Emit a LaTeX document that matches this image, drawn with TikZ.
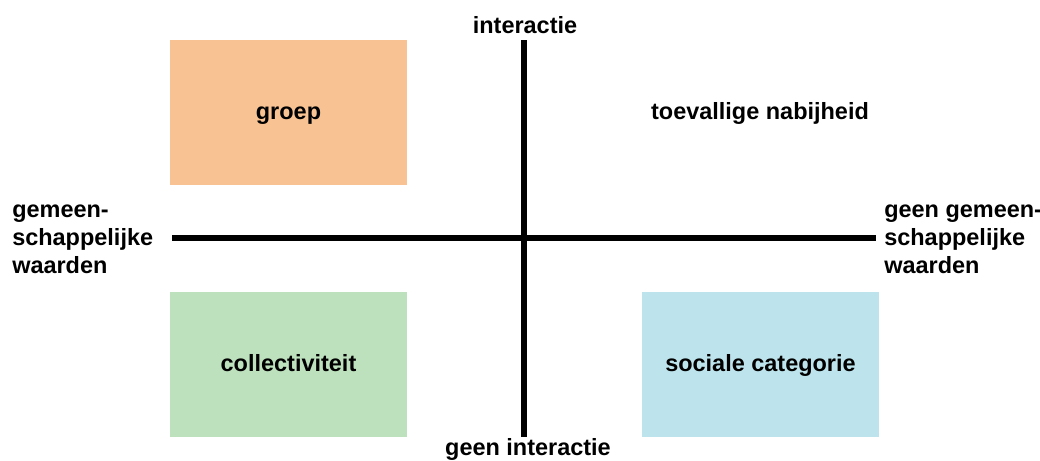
\documentclass[tikz,border=0pt]{standalone}
\usepackage{fontspec}
\setmainfont{Liberation Sans}
\definecolor{groepkleur}{HTML}{F8C292}
\definecolor{collectiefkleur}{HTML}{BDE0BD}
\definecolor{categoriekleur}{HTML}{BDE4EC}
\begin{document}
\begin{tikzpicture}[x=0.75pt,y=-0.75pt,every node/.style={font=\fontsize{17.6}{21}\selectfont\bfseries},quadrant/.style={minimum width=177.75pt,minimum height=108.75pt,inner sep=0pt,text height=10.5pt,text depth=0pt},axis/.style={line width=4.9pt},label/.style={align=left,anchor=west,inner sep=0pt}]
	\useasboundingbox (0,0) rectangle (1040,461);
	\node[quadrant,fill=groepkleur] (groep) at (288.5,112) {groep};
	\node[quadrant,fill=collectiefkleur] (collectief) at (288.5,364.5) {collectiviteit};
	\node[quadrant,fill=categoriekleur] (categorie) at (760.5,364.5) {sociale categorie};
	\node[quadrant] (nabijheid) at (760,112) {toevallige nabijheid};
	\coordinate (boven) at (524,40);
	\coordinate (onder) at (524,437);
	\coordinate (links) at (172,238);
	\coordinate (rechts) at (876,238);
	\draw[axis] (boven) -- (onder);
	\draw[axis] (links) -- (rechts);
	\node[anchor=base,inner sep=0pt] (interactie) at (525,33) {interactie};
	\node[anchor=base,inner sep=0pt] (geen) at (528,455) {geen interactie};
	\node[label] (gedeeld) at (12,239) {gemeen-\\schappelijke\\waarden};
	\node[label] (ongedeeld) at (884,239) {geen gemeen-\\schappelijke\\waarden};
\end{tikzpicture}
\end{document}
